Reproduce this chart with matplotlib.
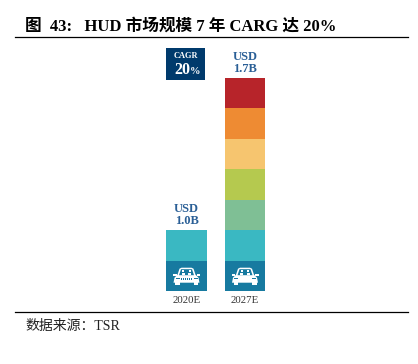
import matplotlib.pyplot as plt
from matplotlib.patches import Polygon, Rectangle

plt.rcParams['font.family'] = ['Liberation Serif', 'Noto Sans CJK SC']

years = ['2020E', '2027E']
totals = ['USD\n1.0B', 'USD\n1.7B']
seg_2020 = [1, 1]
seg_2027 = [1, 1, 1, 1, 1, 1, 1]
colors = ['#177AA0', '#3AB8C2', '#7FBF95', '#B5C94F', '#F6C56F', '#EE8B33', '#B7242A']

W, H = 418, 364
fig = plt.figure(figsize=(W / 100, H / 100), dpi=100)
ax = fig.add_axes([157.25 / W, (H - 291) / H, 117 / W, 213 / H])
ax.set_xlim(-0.5, 1.5)
ax.set_ylim(0, 7)
ax.axis('off')


def draw_car(x0):
    # icon sizes in px, converted to data units
    sx = 1 / 58.5
    sy = 1 / 30.43
    yc = 0.47
    blue = '#177AA0'
    def add_poly(pts, c='white'):
        ax.add_patch(Polygon([(x0 + a * sx, yc + b * sy) for a, b in pts], color=c, lw=0, zorder=3))
    def add_rect(x, y, w, h, c='white'):
        ax.add_patch(Rectangle((x0 + x * sx, yc + y * sy), w * sx, h * sy, color=c, lw=0, zorder=3))
    # body and roof
    add_poly([(-12, -1), (-9, 2), (-7, 8), (-5, 9), (5, 9), (7, 8), (9, 2), (12, -1), (13, -6), (-13, -6)])
    # window
    add_poly([(-7.5, 1.5), (-5.5, 7.5), (5.5, 7.5), (7.5, 1.5)], blue)
    # passengers
    for a in (-3.2, 3.2):
        add_rect(a - 1.6, 1.5, 3.2, 2.5)
        add_rect(a - 1.1, 4.2, 2.2, 2.2)
    # mirrors
    add_rect(-13.5, 0.5, 3.5, 2)
    add_rect(10, 0.5, 3.5, 2)
    # wheels
    add_rect(-11.5, -8, 4.5, 3)
    add_rect(7, -8, 4.5, 3)
    # headlights and grille
    add_rect(-11, -2.5, 4, 1.6, blue)
    add_rect(7, -2.5, 4, 1.6, blue)
    for a in range(-5, 6, 2):
        add_rect(a - 0.4, -3, 0.8, 1.2, blue)


for i, segs in enumerate([seg_2020, seg_2027]):
    b = 0
    for j, v in enumerate(segs):
        ax.bar(i, v, 0.684, bottom=b, color=colors[j], lw=0)
        b += v
    draw_car(i)
    ax.text(i, -0.18, years[i], ha='center', va='top', fontsize=7.8, color='#333333')
    ax.text(i, b + 0.1, totals[i], ha='center', va='bottom', ma='center', fontsize=9, fontweight='bold',
            color='#2A5F96', linespacing=1.05)


def px(x, y):
    return x / W, 1 - y / H


fig.add_artist(Rectangle(px(165.7, 80), 39.6 / W, 32 / H, color='#003A6C', lw=0, transform=fig.transFigure))
fig.text(*px(185.5, 56), 'CAGR', ha='center', va='center', fontsize=6, fontweight='bold', color='white')
fig.text(*px(190, 74), '20', ha='right', va='baseline', fontsize=11.5, fontweight='bold', color='white')
fig.text(*px(190, 74), '%', ha='left', va='baseline', fontsize=7.5, fontweight='bold', color='white')

fig.text(*px(25, 31), '图  43:   HUD 市场规模 7 年 CARG 达 20%', fontsize=12, fontweight='bold', color='black')
fig.text(*px(25, 330), '数据来源\uff1aTSR', fontsize=10, color='#222222')
fig.add_artist(plt.Line2D([15 / W, 408 / W], [1 - 36.5 / H] * 2, color='black', lw=0.9))
fig.add_artist(plt.Line2D([15 / W, 408 / W], [1 - 311.5 / H] * 2, color='black', lw=0.9))

fig.savefig('out.png', dpi=100)
